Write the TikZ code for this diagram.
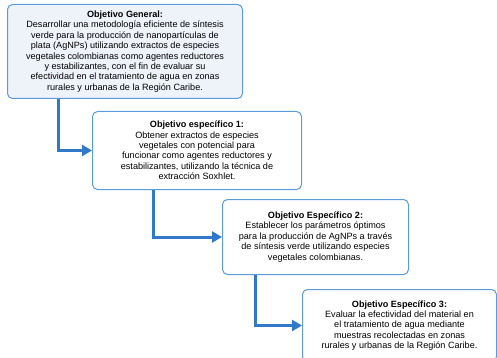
\documentclass[tikz,border=0pt]{standalone}
\usepackage{fontspec}
\setmainfont{Liberation Sans}
\usetikzlibrary{arrows.meta}
\definecolor{boxline}{HTML}{5A9BE0}
\definecolor{boxfill}{HTML}{EEF3FA}
\definecolor{flowblue}{HTML}{3079C8}

\begin{document}
\begin{tikzpicture}[x=1pt,y=-1pt,
  obj/.style={draw=boxline,fill=white,rounded corners=5pt,line width=1pt,anchor=north west,
    align=center,inner sep=2pt,font=\fontsize{9.1}{10.4}\selectfont},
  flow/.style={draw=flowblue,line width=3pt,-{Triangle[length=10pt,width=11pt]}}]
\useasboundingbox (0,0) rectangle (497,358);
\node[obj,fill=boxfill,minimum width=235pt,minimum height=94pt] (gen) at (7,4)
  {\textbf{Objetivo General:}\\Desarrollar una metodología eficiente de síntesis\\verde para la producción de nanopartículas de\\plata (AgNPs) utilizando extractos de especies\\vegetales colombianas como agentes reductores\\y estabilizantes, con el fin de evaluar su\\efectividad en el tratamiento de agua en zonas\\rurales y urbanas de la Región Caribe.};
\node[obj,minimum width=209pt,minimum height=78pt] (esp1) at (92,111)
  {\textbf{Objetivo específico 1:}\\Obtener extractos de especies\\vegetales con potencial para\\funcionar como agentes reductores y\\estabilizantes, utilizando la técnica de\\extracción Soxhlet.};
\node[obj,minimum width=186pt,minimum height=75pt] (esp2) at (222,199)
  {\textbf{Objetivo Específico 2:}\\Establecer los parámetros óptimos\\para la producción de AgNPs a través\\de síntesis verde utilizando especies\\vegetales colombianas.};
\node[obj,minimum width=194pt,minimum height=72pt] (esp3) at (302,289)
  {\textbf{Objetivo Específico 3:}\\Evaluar la efectividad del material en\\el tratamiento de agua mediante\\muestras recolectadas en zonas\\rurales y urbanas de la Región Caribe.};
\draw[flow] ([xshift=51pt]gen.south west) |- (esp1.west);
\draw[flow] ([xshift=61pt]esp1.south west) |- (esp2.west);
\draw[flow] ([xshift=33pt]esp2.south west) |- (esp3.west);
\end{tikzpicture}
\end{document}
